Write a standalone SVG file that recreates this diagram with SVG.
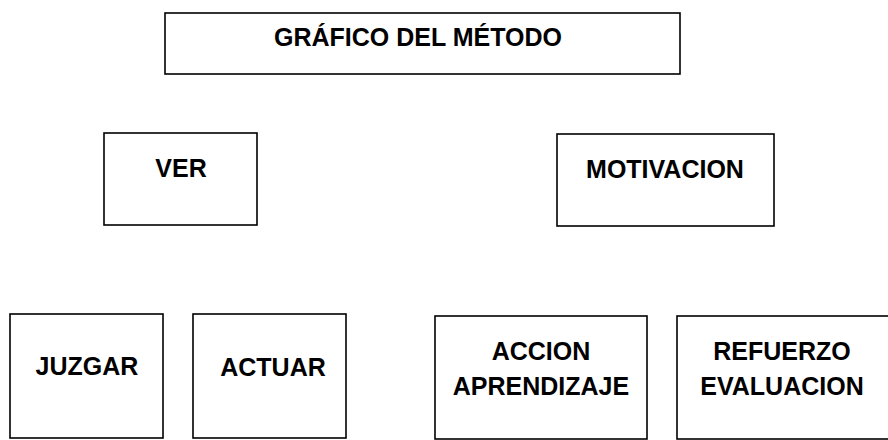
<svg xmlns="http://www.w3.org/2000/svg" width="888" height="440" viewBox="0 0 888 440">
<style>
.box{fill:#fff;stroke:#000;stroke-width:1.6}
.t{font-family:"Liberation Sans",Arial,Helvetica,sans-serif;font-weight:bold;font-size:25px;fill:#000;text-anchor:middle}
</style>
<rect width="888" height="440" fill="#fff"/>
<g id="connectors"></g>
<g id="titulo"><rect class="box" x="165" y="13" width="515" height="61"/><text class="t" x="418" y="46">GRÁFICO DEL MÉTODO</text></g>
<g id="ver"><rect class="box" x="104" y="133" width="153" height="92"/><text class="t" x="181" y="177">VER</text></g>
<g id="motivacion"><rect class="box" x="557" y="134" width="217" height="92"/><text class="t" x="665" y="178">MOTIVACION</text></g>
<g id="juzgar"><rect class="box" x="10" y="314" width="153" height="124"/><text class="t" x="87" y="375">JUZGAR</text></g>
<g id="actuar"><rect class="box" x="193" y="314" width="153" height="124"/><text class="t" x="273" y="376">ACTUAR</text></g>
<g id="accion"><rect class="box" x="435" y="316" width="212" height="123"/><text class="t" x="541" y="360">ACCION</text><text class="t" x="541" y="395">APRENDIZAJE</text></g>
<g id="refuerzo"><rect class="box" x="677" y="316" width="213" height="123"/><text class="t" x="782" y="360">REFUERZO</text><text class="t" x="782" y="395">EVALUACION</text></g>
</svg>
